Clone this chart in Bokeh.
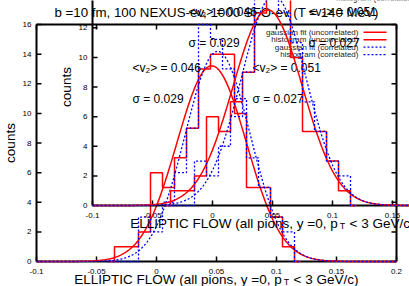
import numpy as np
from bokeh.plotting import figure
from bokeh.models import Range1d
from bokeh.core.properties import value
from bokeh.embed import file_html
from bokeh.resources import INLINE

# ---------------- data ----------------
bin_centers = [-0.04, -0.03, -0.02, -0.01, 0.0, 0.01, 0.02, 0.03, 0.04,
               0.05, 0.06, 0.07, 0.08, 0.09, 0.10, 0.11, 0.12]
counts_uncorrelated = [0, 1, 1, 2, 6, 5, 7, 9, 13, 14, 14, 10, 5, 5, 3, 1, 0]
counts_correlated = [0, 0, 0, 3, 2, 4, 6, 9, 16, 15, 13, 11, 7, 5, 3, 2, 0]
bin_width = 0.01
fit_uncorrelated = (0.046, 0.029)   # mean, sigma
fit_correlated = (0.051, 0.027)     # mean, sigma

x_ticks = [-0.1, -0.05, 0.0, 0.05, 0.1, 0.15, 0.2]
y_ticks = [0, 2, 4, 6, 8, 10, 12, 14, 16]

title_text = "b =10 fm, 100 NEXUS-ev, 1000 SFO-ev (T = 140 MeV)"
y_label = "counts"
x_label_main = "ELLIPTIC FLOW  (all pions, y =0, p"
x_label_sub = "T"
x_label_end = "< 3 GeV/c)"
legend_labels = ["gaussian fit (uncorrelated)", "histogram (uncorrelated)",
                 "gaussian fit (correlated)", "histogram (correlated)"]
annotation_texts = ["<v\u2082> = 0.046", "\u03c3 = 0.029",
                    "<v\u2082> = 0.051", "\u03c3 = 0.027"]

# ---------------- styles / layout ----------------
FONT = "Liberation Sans"
RED = "#ff0000"
BLUE = "#0000ff"
PX_X = 1200.0      # pixels per unit of flow
PX_Y = 14.8125     # pixels per count
SHIFT = 56         # pixel offset of the overlaid second copy
W, H = 409, 286
LEFT, BOTTOM = 36, 25          # position of the front plot's axes on the canvas

x0 = x_ticks[0]
p = figure(width=W, height=H, output_backend="svg", toolbar_location=None,
           x_range=Range1d(x0 - LEFT / PX_X, x0 + (W - LEFT) / PX_X),
           y_range=Range1d(-BOTTOM / PX_Y, (H - BOTTOM) / PX_Y),
           x_axis_location=None, y_axis_location=None, min_border=0, title=None)
p.extra_x_ranges = {"bx": Range1d(x0 - (LEFT + SHIFT) / PX_X, x0 + (W - LEFT - SHIFT) / PX_X)}
p.extra_y_ranges = {"by": Range1d(-(BOTTOM + SHIFT) / PX_Y, (H - BOTTOM - SHIFT) / PX_Y)}
p.grid.visible = False
p.outline_line_color = None
p.background_fill_color = "white"
p.border_fill_color = "white"

xs_fit = np.linspace(x_ticks[0], x_ticks[-1], 401)
legend_y = [15.48, 14.97, 14.47, 13.97]


def gauss(params, counts):
    mean, sigma = params
    n = sum(counts)
    return n * bin_width / (sigma * np.sqrt(2 * np.pi)) * np.exp(-0.5 * ((xs_fit - mean) / sigma) ** 2)


def txt(x, y, t, size, align, baseline="middle", angle=0.0, color="black", kw=None):
    p.text(x=x, y=y, text=t, angle=angle, text_font=value(FONT),
           text_font_size=value(size), text_align=align, text_baseline=baseline,
           text_color=color, **(kw or {}))


def draw_copy(kw, xlab_ticks, ylab_ticks):
    xa, xb = x_ticks[0], x_ticks[-1]
    ya, yb = y_ticks[0], y_ticks[-1]
    tx, ty = 5 / PX_X, 5 / PX_Y
    # border (gnuplot style box) and inward ticks on all four sides
    p.segment(x0=[xa, xa, xa, xb], y0=[ya, ya, yb, ya], x1=[xa, xb, xb, xb],
              y1=[yb, ya, yb, yb], line_color="black", line_width=2, **kw)
    ny, nx = len(y_ticks), len(x_ticks)
    p.segment(x0=[xa] * ny + [xb] * ny, y0=y_ticks + y_ticks,
              x1=[xa + tx] * ny + [xb - tx] * ny, y1=y_ticks + y_ticks,
              line_color="black", line_width=1.5, **kw)
    p.segment(x0=x_ticks + x_ticks, y0=[ya] * nx + [yb] * nx,
              x1=x_ticks + x_ticks, y1=[ya + ty] * nx + [yb - ty] * nx,
              line_color="black", line_width=1.5, **kw)
    # tick labels
    txt([xa - 5 / PX_X] * len(ylab_ticks), ylab_ticks, [f"{t:g}" for t in ylab_ticks],
        "8px", "right", kw=kw)
    txt(xlab_ticks, [-9.5 / PX_Y] * len(xlab_ticks), [f"{t:g}" for t in xlab_ticks],
        "8px", "center", kw=kw)
    # axis labels
    txt([xa - 26 / PX_X], [8], [y_label], "13.5px", "center", "alphabetic",
        angle=np.pi / 2, kw=kw)
    txt([0.1075], [-17.5 / PX_Y], [x_label_main], "13.5px", "right", "alphabetic", kw=kw)
    txt([0.1060], [-20.5 / PX_Y], [x_label_sub], "9px", "left", "alphabetic", kw=kw)
    txt([0.1142], [-17.5 / PX_Y], [x_label_end], "13.5px", "left", "alphabetic", kw=kw)

    # curves and histograms
    p.line(xs_fit, gauss(fit_uncorrelated, counts_uncorrelated),
           line_color=RED, line_width=1.5, **kw)
    p.step(bin_centers, counts_uncorrelated, mode="center",
           line_color=RED, line_width=1.5, **kw)
    p.line(xs_fit, gauss(fit_correlated, counts_correlated),
           line_color=BLUE, line_width=1.3, line_dash="2 2", **kw)
    p.step(bin_centers, counts_correlated, mode="center",
           line_color=BLUE, line_width=1.3, line_dash="2 2", **kw)

    # annotations
    txt([-0.02, -0.02, 0.08, 0.08], [13.03, 10.97, 13.03, 10.97], annotation_texts,
        "12px", "left", kw=kw)

    # legend
    txt([0.1683] * 4, legend_y, legend_labels, "8px", "right", color="#222222", kw=kw)
    p.segment(x0=[0.1725] * 2, y0=legend_y[:2], x1=[0.1917] * 2, y1=legend_y[:2],
              line_color=RED, line_width=1.5, **kw)
    p.segment(x0=[0.1725] * 2, y0=legend_y[2:], x1=[0.1917] * 2, y1=legend_y[2:],
              line_color=BLUE, line_width=1.3, line_dash="2 2", **kw)


# front plot
draw_copy({}, x_ticks, y_ticks)
txt([0.05], [16.81], [title_text], "13.3px", "center")

# overlaid second copy, shifted, drawn through its own ranges
bkw = dict(x_range_name="bx", y_range_name="by")
bx_end = p.extra_x_ranges["bx"].end
by_end = p.extra_y_ranges["by"].end
draw_copy(bkw, [t for t in x_ticks if t < bx_end], [t for t in y_ticks if t + 0.3 < by_end])

open("out.html", "w").write(file_html(p, INLINE))
